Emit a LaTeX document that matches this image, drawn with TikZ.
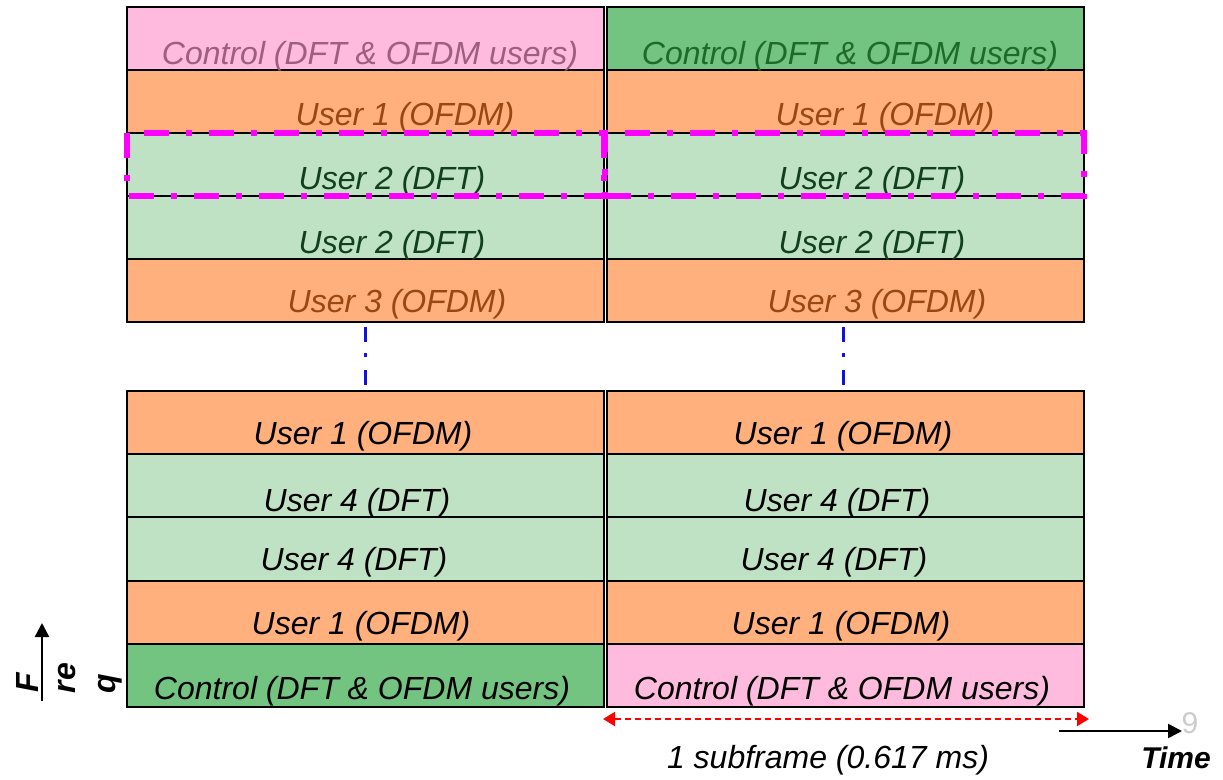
\documentclass[tikz,border=0pt]{standalone}
\usepackage{fontspec}
\setmainfont{Liberation Sans}
\usetikzlibrary{arrows.meta}
\definecolor{pinkc}{HTML}{FFBBDD}
\definecolor{ctrlg}{HTML}{73C480}
\definecolor{orangec}{HTML}{FFB07C}
\definecolor{lgreen}{HTML}{BEE2C3}
\definecolor{mauvet}{HTML}{9E5E80}
\definecolor{ctrlgt}{HTML}{1E6A2A}
\definecolor{brownt}{HTML}{9A4712}
\definecolor{dgreent}{HTML}{123F1C}
\definecolor{magc}{HTML}{FF00FF}
\definecolor{bluec}{HTML}{1010E8}
\begin{document}
\begin{tikzpicture}[x=1pt,y=-1pt,
  cell/.style={draw=black,line width=2pt,minimum width=477pt,minimum height=63pt,inner sep=0pt,outer sep=0pt,anchor=north west},
  bcell/.style={cell,minimum height=63.2pt},
  lbl/.style={font=\fontsize{32}{38}\selectfont\itshape,inner sep=0pt},
  blbl/.style={font=\fontsize{32}{38}\selectfont\bfseries\itshape,inner sep=0pt},
  selbox/.style={draw=magc,line width=5.5pt,dash pattern=on 25pt off 17pt on 6pt off 17pt},
  bluedot/.style={draw=bluec,line width=3.5pt,dash pattern=on 15pt off 11pt on 4pt off 13pt},
  redarr/.style={draw=red,line width=2pt,dash pattern=on 6pt off 4pt,{Triangle[length=12pt,width=14pt]}-{Triangle[length=12pt,width=14pt]}},
  blkarr/.style={draw=black,line width=2.5pt,-{Triangle[length=14pt,width=14pt]}}]
\useasboundingbox (0,0) rectangle (1223,779);
% top block, left column
\node[cell,fill=pinkc]   (tl1) at (127,7) {};
\node[cell,fill=orangec] (tl2) at (127,70) {};
\node[cell,fill=lgreen]  (tl3) at (127,133) {};
\node[cell,fill=lgreen]  (tl4) at (127,196) {};
\node[cell,fill=orangec] (tl5) at (127,259) {};
% top block, right column
\node[cell,fill=ctrlg]   (tr1) at (607,7) {};
\node[cell,fill=orangec] (tr2) at (607,70) {};
\node[cell,fill=lgreen]  (tr3) at (607,133) {};
\node[cell,fill=lgreen]  (tr4) at (607,196) {};
\node[cell,fill=orangec] (tr5) at (607,259) {};
% bottom block, left column
\node[bcell,fill=orangec] (bl1) at (127,391) {};
\node[bcell,fill=lgreen]  (bl2) at (127,454.2) {};
\node[bcell,fill=lgreen]  (bl3) at (127,517.4) {};
\node[bcell,fill=orangec] (bl4) at (127,580.6) {};
\node[bcell,fill=ctrlg]   (bl5) at (127,643.8) {};
% bottom block, right column
\node[bcell,fill=orangec] (br1) at (607,391) {};
\node[bcell,fill=lgreen]  (br2) at (607,454.2) {};
\node[bcell,fill=lgreen]  (br3) at (607,517.4) {};
\node[bcell,fill=orangec] (br4) at (607,580.6) {};
\node[bcell,fill=pinkc]   (br5) at (607,643.8) {};
% labels top
\node[lbl,text=mauvet]  (ttl1) at (370,56) {Control (DFT \& OFDM users)};
\node[lbl,text=brownt]  (ttl2) at (405,117) {User 1 (OFDM)};
\node[lbl,text=dgreent] (ttl3) at (392,181) {User 2 (DFT)};
\node[lbl,text=dgreent] (ttl4) at (392,245) {User 2 (DFT)};
\node[lbl,text=brownt]  (ttl5) at (397,304) {User 3 (OFDM)};
\node[lbl,text=ctrlgt]  (ttr1) at (850,56) {Control (DFT \& OFDM users)};
\node[lbl,text=brownt]  (ttr2) at (885,117) {User 1 (OFDM)};
\node[lbl,text=dgreent] (ttr3) at (872,181) {User 2 (DFT)};
\node[lbl,text=dgreent] (ttr4) at (872,245) {User 2 (DFT)};
\node[lbl,text=brownt]  (ttr5) at (877,304) {User 3 (OFDM)};
% labels bottom
\node[lbl] (tbl1) at (363,436) {User 1 (OFDM)};
\node[lbl] (tbl2) at (357,503) {User 4 (DFT)};
\node[lbl] (tbl3) at (354,562) {User 4 (DFT)};
\node[lbl] (tbl4) at (361,626) {User 1 (OFDM)};
\node[lbl] (tbl5) at (362,691) {Control (DFT \& OFDM users)};
\node[lbl] (tbr1) at (843,436) {User 1 (OFDM)};
\node[lbl] (tbr2) at (837,503) {User 4 (DFT)};
\node[lbl] (tbr3) at (834,562) {User 4 (DFT)};
\node[lbl] (tbr4) at (841,626) {User 1 (OFDM)};
\node[lbl] (tbr5) at (842,691) {Control (DFT \& OFDM users)};
% magenta selection boxes
\draw[selbox] (127,133) rectangle (605,196);
\draw[selbox] (604,133) rectangle (1084,196);
% blue continuation marks
\draw[bluedot,shorten <=5pt,shorten >=6pt] (tl5.south) -- (bl1.north);
\draw[bluedot,shorten <=5pt,shorten >=6pt] ([xshift=-2pt]tr5.south) -- ([xshift=-2pt]br1.north);
% subframe arrow
\coordinate (sfa) at (603,719);
\coordinate (sfb) at (1089,719);
\draw[redarr] (sfa) -- (sfb);
\node[lbl] (sft) at (828,760) {1 subframe (0.617 ms)};
% time axis
\coordinate (ta) at (1059,731);
\coordinate (tb) at (1182,731);
\draw[blkarr] (ta) -- (tb);
\node[font=\fontsize{30}{34}\selectfont,text=black!20,inner sep=0pt] (nine) at (1190,723) {9};
\node[blbl,font=\fontsize{30}{34}\selectfont\bfseries\itshape] (timet) at (1176,758) {Time};
% frequency axis
\coordinate (fa) at (42,701);
\coordinate (fb) at (42,623);
\draw[blkarr] (fa) -- (fb);
\node[blbl,rotate=90] (f1) at (27,683) {F};
\node[blbl,rotate=90] (f2) at (67,678) {re};
\node[blbl,rotate=90] (f3) at (110,684) {q};
\end{tikzpicture}
\end{document}
